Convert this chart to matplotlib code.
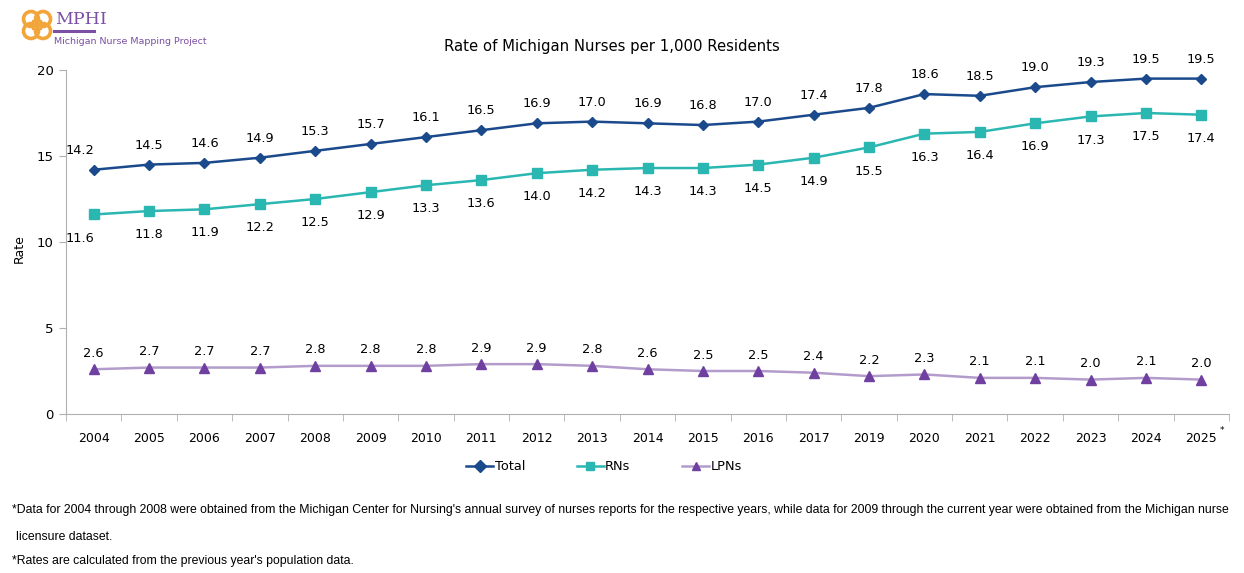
import matplotlib
matplotlib.use('Agg')
import matplotlib.pyplot as plt
from matplotlib.patches import Circle, Rectangle
import numpy as np

years = ['2004', '2005', '2006', '2007', '2008', '2009', '2010', '2011', '2012', '2013',
         '2014', '2015', '2016', '2017', '2019', '2020', '2021', '2022', '2023', '2024', '2025*']
total = [14.2, 14.5, 14.6, 14.9, 15.3, 15.7, 16.1, 16.5, 16.9, 17.0,
         16.9, 16.8, 17.0, 17.4, 17.8, 18.6, 18.5, 19.0, 19.3, 19.5, 19.5]
rns = [11.6, 11.8, 11.9, 12.2, 12.5, 12.9, 13.3, 13.6, 14.0, 14.2,
       14.3, 14.3, 14.5, 14.9, 15.5, 16.3, 16.4, 16.9, 17.3, 17.5, 17.4]
lpns = [2.6, 2.7, 2.7, 2.7, 2.8, 2.8, 2.8, 2.9, 2.9, 2.8,
        2.6, 2.5, 2.5, 2.4, 2.2, 2.3, 2.1, 2.1, 2.0, 2.1, 2.0]

c_total = '#1b4a8c'
c_rn = '#2ab7b1'
c_lpn_line = '#b39ccc'
c_lpn_mark = '#7040a0'
grey = '#b0b0b0'

plt.rcParams['font.family'] = ['DejaVu Sans']

fig = plt.figure(figsize=(12.44, 5.73), dpi=100)
ax = fig.add_axes([66/1244, 1-414/573, (1229-66)/1244, (414-70)/573])

x = np.arange(len(years))
ax.plot(x, total, color=c_total, lw=1.8, marker='D', ms=5.5, label='Total')
ax.plot(x, rns, color=c_rn, lw=1.8, marker='s', ms=7, label='RNs')
ax.plot(x, lpns, color=c_lpn_line, lw=1.8, marker='^', ms=7,
        mfc=c_lpn_mark, mec=c_lpn_mark, label='LPNs')

for i in range(len(x)):
    dx = -10 if i == 0 else 0
    ax.annotate('%.1f' % total[i], (x[i], total[i]), xytext=(dx, 14), textcoords='offset points',
                ha='center', va='center', fontsize=9.3, color='black')
    ax.annotate('%.1f' % rns[i], (x[i], rns[i]), xytext=(dx, -17), textcoords='offset points',
                ha='center', va='center', fontsize=9.3, color='black')
    ax.annotate('%.1f' % lpns[i], (x[i], lpns[i]), xytext=(0, 11.5), textcoords='offset points',
                ha='center', va='center', fontsize=9.3, color='black')

ax.set_xlim(-0.5, len(years) - 0.5)
ax.set_ylim(0, 20)
ax.set_yticks([0, 5, 10, 15, 20])
ax.set_xticks(x)
# asterisk drawn small, next to the year
ax.set_xticklabels([y.rstrip('*') for y in years])
for i, y in enumerate(years):
    if y.endswith('*'):
        ax.annotate('*', (x[i], 0), xycoords=('data', 'axes fraction'), xytext=(15, -12),
                    textcoords='offset points', ha='center', va='center', fontsize=6.5)
ax.set_xticks(np.arange(-0.5, len(years), 1), minor=True)
ax.tick_params(axis='x', which='major', length=0, pad=13, labelsize=9)
ax.tick_params(axis='x', which='minor', length=5, color=grey, direction='out')
ax.tick_params(axis='y', length=5, color=grey, labelsize=9.5, pad=4)
for s in ['top', 'right']:
    ax.spines[s].set_visible(False)
for s in ['left', 'bottom']:
    ax.spines[s].set_color(grey)
ax.set_ylabel('Rate', fontsize=9)
ax.yaxis.set_label_coords(-40/1163, 0.48)

ax.set_title('Rate of Michigan Nurses per 1,000 Residents', fontsize=10.7, x=0.469, y=1.03)

leg = fig.legend(loc='center', bbox_to_anchor=(604/1244, 1-467/573), ncol=3, frameon=False,
                 fontsize=9.3, columnspacing=4.0, handlelength=2.1, handletextpad=0.1)
for h in leg.legend_handles:
    h.set_markersize(6)

# footnotes: shrink to the width the reference uses
foot = ['Liberation Sans', 'DejaVu Sans']
line1 = ("*Data for 2004 through 2008 were obtained from the Michigan Center for Nursing's annual survey "
         "of nurses reports for the respective years, while data for 2009 through the current year were obtained from the Michigan nurse")
t1 = fig.text(12/1244, 1-510/573, line1, fontsize=10, family=foot, va='center')
t2 = fig.text(16/1244, 1-537/573, 'licensure dataset.', fontsize=10, family=foot, va='center')
t3 = fig.text(12/1244, 1-561/573, "*Rates are calculated from the previous year's population data.",
              fontsize=10, family=foot, va='center')
r = fig.canvas.get_renderer()
w = t1.get_window_extent(renderer=r).width
fs = 10 * 1216 / w
for t in (t1, t2, t3):
    t.set_fontsize(fs)

# logo
lax = fig.add_axes([0, 1-50/573, 220/1244, 50/573])
lax.set_xlim(0, 220)
lax.set_ylim(50, 0)
lax.axis('off')
for cx, cy in [(31, 19), (43, 19), (31, 31), (43, 31)]:
    lax.add_patch(Circle((cx, cy), 7.5, fill=False, ec='#f2a53a', lw=2.6))
lax.add_patch(Rectangle((33, 21), 8, 8, fill=False, ec='#f2a53a', lw=1.6))
lax.text(55, 28, 'MPHI', fontsize=12.5, color='#7b4fa3', family='DejaVu Serif', va='bottom')
lax.plot([54, 94], [31, 31], color='#7b4fa3', lw=2.2)
lax.text(54, 41, 'Michigan Nurse Mapping Project', fontsize=6.8, color='#7b4fa3', va='center')

fig.savefig('out.png', dpi=100)
